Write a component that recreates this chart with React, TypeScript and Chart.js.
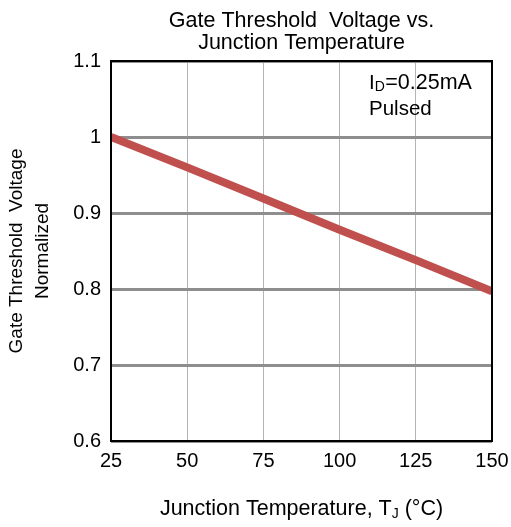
import React, { useEffect, useRef } from "react";
import { Chart, registerables } from "chart.js";

Chart.register(...registerables);

const temperatures: number[] = [25, 50, 75, 100, 125, 150];
const thresholdNormalized: number[] = [1.0, 0.96, 0.919, 0.878, 0.838, 0.797];
const titleLines: string[] = ["Gate Threshold  Voltage vs.", "Junction Temperature"];
const yTitleLines: string[] = ["Gate Threshold  Voltage", "Normalized"];
const xTitleMain = "Junction Temperature, T";
const xTitleSub = "J";
const xTitleTail = " (°C)";
const noteMain = "I";
const noteSub = "D";
const noteTail = "=0.25mA";
const noteLine2 = "Pulsed";
const yMin = 0.6;
const yMax = 1.1;
const xMin = 25;
const xMax = 150;

const FONT = "'Liberation Sans', Arial, sans-serif";

const decorPlugin = {
  id: "decor",
  afterDatasetsDraw(chart: any) {
    const { ctx, chartArea } = chart;
    const { left, right, top, bottom } = chartArea;
    ctx.save();
    // plot border
    ctx.strokeStyle = "#000";
    ctx.lineWidth = 2;
    ctx.strokeRect(left, top, right - left, bottom - top);

    // annotation
    ctx.fillStyle = "#000";
    ctx.textBaseline = "alphabetic";
    ctx.textAlign = "left";
    const nx = left + 258;
    const ny = top + 28;
    ctx.font = `20.5px ${FONT}`;
    ctx.fillText(noteMain, nx, ny);
    let w = ctx.measureText(noteMain).width;
    ctx.font = `14px ${FONT}`;
    ctx.fillText(noteSub, nx + w, ny + 2);
    w += ctx.measureText(noteSub).width + 0.5;
    ctx.font = `21.5px ${FONT}`;
    ctx.fillText(noteTail, nx + w, ny);
    ctx.font = `20.5px ${FONT}`;
    ctx.fillText(noteLine2, nx, ny + 26);

    // x axis title with subscript
    ctx.font = `21.5px ${FONT}`;
    const w1 = ctx.measureText(xTitleMain).width;
    const w3 = ctx.measureText(xTitleTail).width;
    ctx.font = `14px ${FONT}`;
    const w2 = ctx.measureText(xTitleSub).width;
    const total = w1 + w2 + w3;
    const cx = (left + right) / 2;
    const by = bottom + 74;
    let x = cx - total / 2;
    ctx.font = `21.5px ${FONT}`;
    ctx.fillText(xTitleMain, x, by);
    x += w1;
    ctx.font = `14px ${FONT}`;
    ctx.fillText(xTitleSub, x, by + 3);
    x += w2;
    ctx.font = `21.5px ${FONT}`;
    ctx.fillText(xTitleTail, x, by);
    ctx.restore();
  },
};

export default function App() {
  const canvasRef = useRef<HTMLCanvasElement | null>(null);

  useEffect(() => {
    if (!canvasRef.current) return;
    Chart.defaults.color = "#000";
    const chart = new Chart(canvasRef.current, {
      type: "line",
      data: {
        datasets: [
          {
            data: temperatures.map((t, i) => ({ x: t, y: thresholdNormalized[i] })),
            borderColor: "#C0504D",
            borderWidth: 8,
            pointRadius: 0,
            fill: false,
            tension: 0,
          },
        ],
      },
      options: {
        animation: false,
        responsive: false,
        devicePixelRatio: 1,
        layout: { padding: { top: 0, right: 19, bottom: 0, left: 0 } },
        plugins: {
          legend: { display: false },
          tooltip: { enabled: false },
          title: {
            display: true,
            text: titleLines,
            fullSize: false,
            color: "#000",
            font: { family: FONT, size: 21.5, weight: "normal", lineHeight: 1.0 },
            padding: { top: 10.5, bottom: 7.5 },
          },
        },
        scales: {
          x: {
            type: "linear",
            min: xMin,
            max: xMax,
            afterFit(scale: any) {
              scale.height = 86;
              scale.paddingRight = 0;
              scale.paddingLeft = 0;
            },
            ticks: {
              stepSize: 25,
              color: "#000",
              padding: 8,
              maxRotation: 0,
              font: { family: FONT, size: 20 },
            },
            grid: { color: "#b4b4b4", lineWidth: 1, drawTicks: false },
            border: { display: false },
          },
          y: {
            type: "linear",
            min: yMin,
            max: yMax,
            afterFit(scale: any) {
              scale.width = 111;
              scale.paddingTop = 0;
              scale.paddingBottom = 0;
            },
            ticks: {
              stepSize: 0.1,
              color: "#000",
              padding: 10,
              font: { family: FONT, size: 20 },
              callback: (v: any) => String(Math.round(Number(v) * 10) / 10),
            },
            grid: { color: "#8e8e8e", lineWidth: 3, drawTicks: false },
            border: { display: false },
            title: {
              display: true,
              text: yTitleLines,
              color: "#000",
              font: { family: FONT, size: 19, lineHeight: 1.37 },
              padding: { top: 4, bottom: 0 },
            },
          },
        },
      },
      plugins: [decorPlugin],
    });
    return () => chart.destroy();
  }, []);

  return (
    <div style={{ position: "fixed", left: 0, top: 0, width: 511, height: 527, background: "#fff" }}>
      <canvas ref={canvasRef} width={511} height={527} style={{ width: 511, height: 527 }} />
    </div>
  );
}
